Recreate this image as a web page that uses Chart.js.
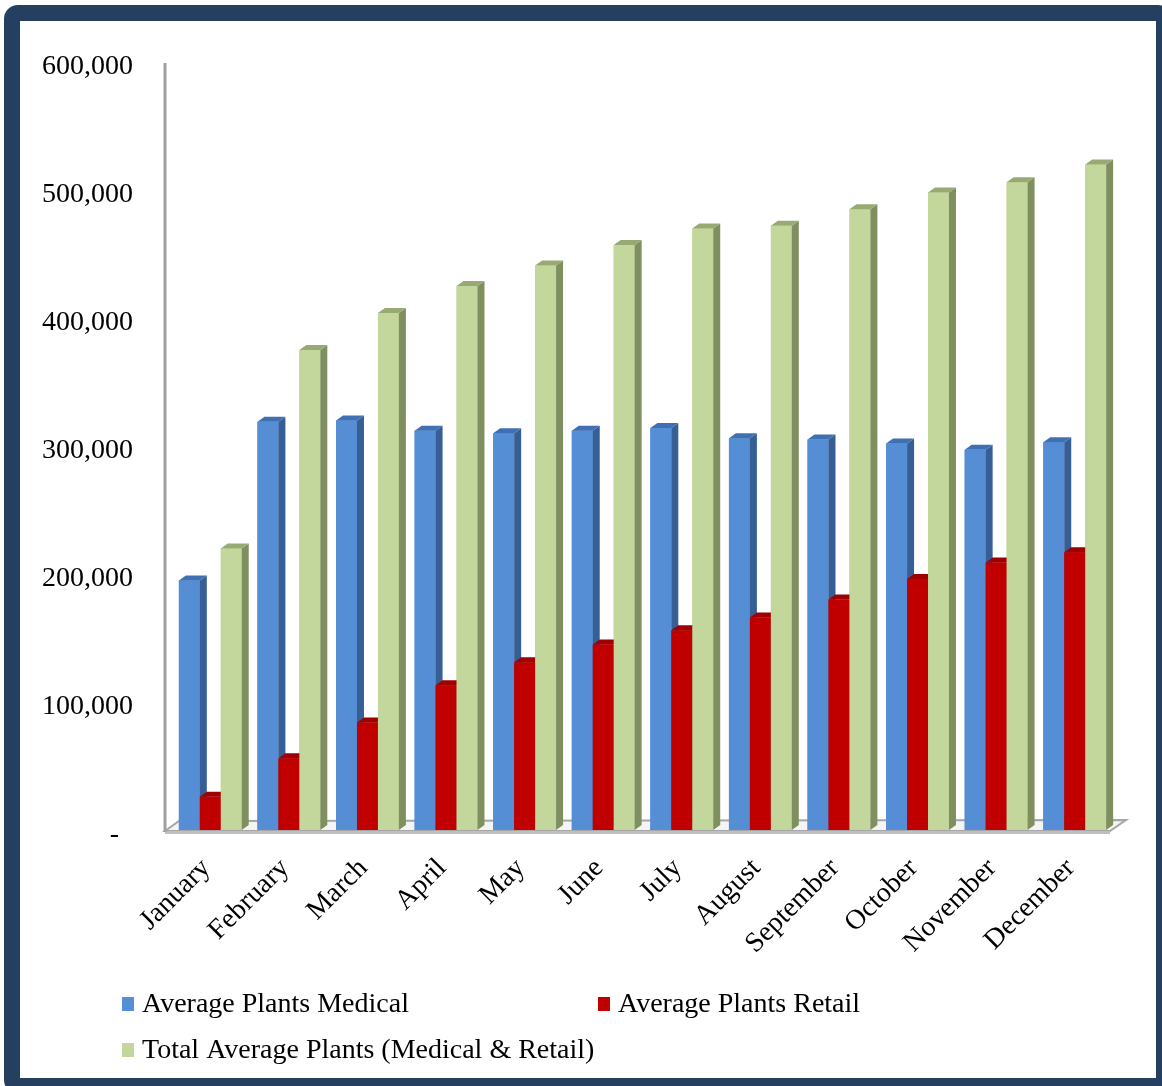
<!DOCTYPE html>
<html>
<head>
<meta charset="utf-8">
<script src="https://cdn.jsdelivr.net/npm/chart.js@4.4.1/dist/chart.umd.min.js"></script>
<style>
  html, body { margin: 0; padding: 0; background: #ffffff; }
  body { position: relative; width: 1162px; height: 1086px; overflow: hidden; }
  #frame {
    position: absolute; left: 4px; top: 5px; width: 1168px; height: 1089px;
    box-sizing: border-box; border: 16px solid #243f60; border-radius: 14px;
  }
  #wrap { position: absolute; left: 0; top: 0; width: 1162px; height: 1086px; }
</style>
</head>
<body>
<div id="frame"></div>
<div id="wrap"><canvas id="chart" width="1162" height="1086"></canvas></div>
<script>
// Monthly averages of plants
const months = ['January', 'February', 'March', 'April', 'May', 'June', 'July',
                'August', 'September', 'October', 'November', 'December'];
const medical = [195000, 319000, 320000, 312000, 310000, 312000, 314000, 306000, 305000, 302000, 297000, 303000];
const retail  = [26000, 56000, 84000, 113000, 131000, 145000, 156000, 166000, 180000, 196000, 209000, 217000];
const total   = [220000, 375000, 404000, 425000, 441000, 457000, 470000, 472000, 485000, 498000, 506000, 520000];
const seriesNames = ['Average Plants Medical', 'Average Plants Retail', 'Total Average Plants (Medical & Retail)'];
const yTicks = [0, 100000, 200000, 300000, 400000, 500000, 600000];

const FONT = "'Liberation Serif', 'Times New Roman', serif";
const DEPTH_X = 7, DEPTH_Y = 5;

// faces: front, side, top
const palette = [
  { front: '#558ed5', side: '#375f96', top: '#3f70b3' },
  { front: '#c00000', side: '#880000', top: '#a00000' },
  { front: '#c3d69b', side: '#7f8f60', top: '#98aa72' }
];

function fmt(v) {
  return v === 0 ? '-  ' : v.toLocaleString('en-US');
}

// floor slab and back-wall edge
const floorPlugin = {
  id: 'floor',
  beforeDatasetsDraw(chart) {
    const { ctx, chartArea: a } = chart;
    const fl = a.left - 6, fr = a.right - 4, fy = a.bottom + 1;
    const dx = 16, dy = 11;
    ctx.save();
    ctx.fillStyle = '#f4f4f4';
    ctx.strokeStyle = '#a6a6a6';
    ctx.lineWidth = 2;
    ctx.beginPath();
    ctx.moveTo(fl, fy);
    ctx.lineTo(fr, fy);
    ctx.lineTo(fr + dx, fy - dy);
    ctx.lineTo(fl + dx - 2, fy - dy + 1);
    ctx.closePath();
    ctx.fill();
    ctx.stroke();
    ctx.fillStyle = '#bfbfbf';
    ctx.fillRect(fl, fy, fr - fl, 3);
    // vertical axis edge
    ctx.strokeStyle = '#a0a0a0';
    ctx.lineWidth = 3;
    ctx.beginPath();
    ctx.moveTo(fl, a.top + 1);
    ctx.lineTo(fl, fy + 1);
    ctx.stroke();
    ctx.restore();
  }
};

// extruded look for each column: side and top faces
const extrudePlugin = {
  id: 'extrude',
  afterDatasetsDraw(chart) {
    const ctx = chart.ctx;
    ctx.save();
    chart.data.datasets.forEach((ds, i) => {
      const meta = chart.getDatasetMeta(i);
      const c = palette[i];
      meta.data.forEach(bar => {
        const { x, y, base, width } = bar.getProps(['x', 'y', 'base', 'width'], true);
        const l = x - width / 2, r = x + width / 2;
        ctx.fillStyle = c.front;
        ctx.fillRect(l, y, width, base - y);
        ctx.fillStyle = c.side;
        ctx.beginPath();
        ctx.moveTo(r, y);
        ctx.lineTo(r + DEPTH_X, y - DEPTH_Y);
        ctx.lineTo(r + DEPTH_X, base - DEPTH_Y);
        ctx.lineTo(r, base);
        ctx.closePath();
        ctx.fill();
        ctx.fillStyle = c.top;
        ctx.beginPath();
        ctx.moveTo(l, y);
        ctx.lineTo(l + DEPTH_X, y - DEPTH_Y);
        ctx.lineTo(r + DEPTH_X, y - DEPTH_Y);
        ctx.lineTo(r, y);
        ctx.closePath();
        ctx.fill();
      });
    });
    ctx.restore();
  }
};

// legend laid out in two columns
const legendPlugin = {
  id: 'twoColLegend',
  afterDraw(chart) {
    const ctx = chart.ctx;
    const slots = [[122, 1004], [598, 1004], [122, 1050]];
    ctx.save();
    ctx.font = '28px ' + FONT;
    ctx.textBaseline = 'middle';
    ctx.textAlign = 'left';
    chart.data.datasets.forEach((ds, i) => {
      const [x, y] = slots[i];
      ctx.fillStyle = palette[i].front;
      ctx.fillRect(x, y - 7, 12, 14);
      ctx.fillStyle = '#000000';
      ctx.fillText(ds.label, x + 20, y + 1);
    });
    ctx.restore();
  }
};

new Chart(document.getElementById('chart'), {
  type: 'bar',
  data: {
    labels: months,
    datasets: [
      { label: seriesNames[0], data: medical, backgroundColor: palette[0].front },
      { label: seriesNames[1], data: retail, backgroundColor: palette[1].front },
      { label: seriesNames[2], data: total, backgroundColor: palette[2].front }
    ]
  },
  options: {
    responsive: false,
    animation: false,
    events: [],
    layout: { padding: { top: 62, right: 48, bottom: 0, left: 0 } },
    datasets: { bar: { categoryPercentage: 0.8, barPercentage: 1.0, borderWidth: 0 } },
    plugins: { legend: { display: false }, tooltip: { enabled: false } },
    scales: {
      x: {
        grid: { display: false, drawTicks: false },
        border: { display: false },
        ticks: {
          color: '#000000', font: { family: FONT, size: 28 },
          minRotation: 45, maxRotation: 45, padding: 22, labelOffset: -4, autoSkip: false
        },
        afterFit(s) { s.height = 256; }
      },
      y: {
        min: 0, max: 600000,
        afterBuildTicks(s) { s.ticks = yTicks.map(v => ({ value: v })); },
        grid: { display: false, drawTicks: false },
        border: { display: false },
        ticks: {
          color: '#000000', font: { family: FONT, size: 28 }, padding: 38, labelOffset: 5,
          callback: v => fmt(v)
        },
        afterFit(s) { s.width = 171; }
      }
    }
  },
  plugins: [floorPlugin, extrudePlugin, legendPlugin]
});
</script>
</body>
</html>
